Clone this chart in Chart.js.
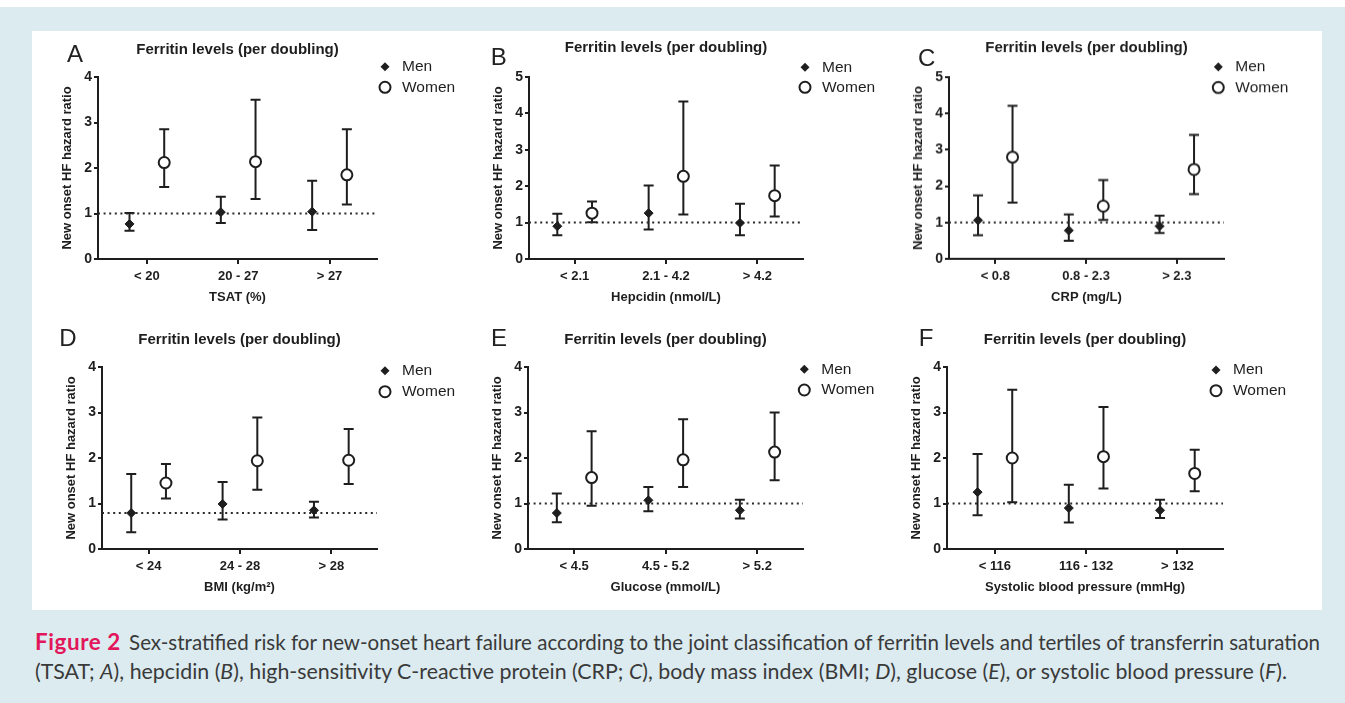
<!DOCTYPE html>
<html>
<head>
<meta charset="utf-8">
<title>Figure 2</title>
<script src="https://cdn.jsdelivr.net/npm/chart.js@4.4.1/dist/chart.umd.min.js"></script>
<style>
  html, body { margin: 0; padding: 0; background: #fff; }
  #page { position: relative; width: 1345px; height: 703px; overflow: hidden; background: #fff; }
  #frame { position: absolute; left: 0; top: 7px; width: 1345px; height: 696px; background: #dbebf0; }
  #plots { position: absolute; left: 32px; top: 31px; width: 1290px; height: 579px; background: #fff; }
  .panel-canvas { position: absolute; }
  .letter { position: absolute; font: 24px "Liberation Sans", Arial, sans-serif; color: #222;
            line-height: 1; transform: translate(-50%, -50%); }
  .cap { position: absolute; left: 35px; white-space: nowrap; font: 21.5px Lato, "Open Sans", sans-serif;
         color: #3a3a3a; line-height: 24px; transform-origin: 0 50%; }
  .cap .fig { color: #e2175b; font-weight: 700; font-size: 23.5px; letter-spacing: 0.6px; margin-right: 3px; }
</style>
</head>
<body>
<div id="page">
  <div id="frame"></div>
  <div id="plots"></div>
  <div class="cap" id="cap1"><span class="fig">Figure 2</span> Sex-stratified risk for new-onset heart failure according to the joint classification of ferritin levels and tertiles of transferrin saturation</div>
  <div class="cap" id="cap2">(TSAT; <i>A</i>), hepcidin (<i>B</i>), high-sensitivity C-reactive protein (CRP; <i>C</i>), body mass index (BMI; <i>D</i>), glucose (<i>E</i>), or systolic blood pressure (<i>F</i>).</div>
</div>

<script>
// --- data ---
const panelLetters = ['A', 'B', 'C', 'D', 'E', 'F'];
const panelTitle = 'Ferritin levels (per doubling)';
const yTitle = 'New onset HF hazard ratio';
const seriesNames = ['Men', 'Women'];
const xTitles = ['TSAT (%)', 'Hepcidin (nmol/L)', 'CRP (mg/L)', 'BMI (kg/m\u00B2)', 'Glucose (mmol/L)', 'Systolic blood pressure (mmHg)'];
const categories = [
    ['< 20', '20 - 27', '> 27'],
    ['< 2.1', '2.1 - 4.2', '> 4.2'],
    ['< 0.8', '0.8 - 2.3', '> 2.3'],
    ['< 24', '24 - 28', '> 28'],
    ['< 4.5', '4.5 - 5.2', '> 5.2'],
    ['< 116', '116 - 132', '> 132']
];
const yMax = [4, 5, 5, 4, 4, 4];
const refLevel = [1, 1, 1, 0.79, 1, 1];

const menHR = [[0.77, 1.03, 1.04], [0.90, 1.26, 0.99], [1.06, 0.78, 0.90], [0.79, 0.99, 0.85], [0.79, 1.07, 0.85], [1.25, 0.90, 0.85]];
const menLow = [[0.62, 0.79, 0.64], [0.65, 0.81, 0.65], [0.65, 0.50, 0.71], [0.37, 0.65, 0.69], [0.59, 0.83, 0.67], [0.74, 0.58, 0.68]];
const menHigh = [[1.01, 1.37, 1.72], [1.24, 2.02, 1.52], [1.75, 1.22, 1.19], [1.65, 1.47, 1.04], [1.22, 1.36, 1.08], [2.09, 1.41, 1.08]];

const womenHR = [[2.12, 2.14, 1.85], [1.26, 2.27, 1.74], [2.80, 1.45, 2.46], [1.45, 1.94, 1.95], [1.57, 1.96, 2.13], [2.00, 2.03, 1.66]];
const womenLow = [[1.58, 1.32, 1.20], [1.01, 1.22, 1.17], [1.55, 1.07, 1.78], [1.11, 1.30, 1.43], [0.95, 1.36, 1.51], [1.03, 1.33, 1.27]];
const womenHigh = [[2.85, 3.50, 2.85], [1.58, 4.33, 2.57], [4.21, 2.17, 3.41], [1.87, 2.89, 2.64], [2.59, 2.85, 3.00], [3.50, 3.12, 2.18]];

// --- layout: plot area of every panel in page pixels ---
const panelBoxes = [
    { left: 98,  right: 377,  top: 77,  bottom: 259,   xMin: 0.465, xMax: 3.52, titleDy: 27,   letter: [75, 54],    legend: [385, 66.7, 87.3] },
    { left: 529, right: 803,  top: 77,  bottom: 259,   xMin: 0.50,  xMax: 3.50, titleDy: 29.5, letter: [498.7, 57], legend: [805, 67.3, 87.3] },
    { left: 949, right: 1224, top: 77,  bottom: 258.5, xMin: 0.49,  xMax: 3.52, titleDy: 29.5, letter: [926.7, 57.5], legend: [1218.3, 66.7, 87.3] },
    { left: 102, right: 377,  top: 367, bottom: 549,   xMin: 0.49,  xMax: 3.50, titleDy: 27,   letter: [68, 337.5], legend: [385, 370.7, 391.7] },
    { left: 528, right: 803,  top: 367, bottom: 549,   xMin: 0.495, xMax: 3.50, titleDy: 27,   letter: [499, 338],  legend: [804.3, 369.3, 390] },
    { left: 947, right: 1223, top: 367, bottom: 549,   xMin: 0.475, xMax: 3.50, titleDy: 27,   letter: [926, 337.5], legend: [1216, 370, 390.7] }
];

const AXIS_W = 70;   // room left of the plot for y ticks and title
const TOP_PAD = 48;
const RIGHT_PAD = 100;
const AXIS_H = 52;   // room under the plot for x ticks and title
const GROUP_SHIFT = 0.19;
const INK = '#1e1e1e';
const FONT = '"Liberation Sans", Arial, sans-serif';

// vertical confidence intervals with caps, drawn through the scales
const errorBars = {
    id: 'errorBars',
    beforeDatasetsDraw(chart) {
        const { ctx } = chart;
        const xs = chart.scales.x;
        const ys = chart.scales.y;
        ctx.save();
        ctx.strokeStyle = INK;
        ctx.lineWidth = 2;
        chart.data.datasets.forEach(ds => {
            if (!ds.errLow) return;
            ds.data.forEach((p, i) => {
                const px = xs.getPixelForValue(p.x);
                const yl = ys.getPixelForValue(ds.errLow[i]);
                const yh = ys.getPixelForValue(ds.errHigh[i]);
                ctx.beginPath();
                ctx.moveTo(px, yl);
                ctx.lineTo(px, yh);
                ctx.moveTo(px - 5, yl);
                ctx.lineTo(px + 5, yl);
                ctx.moveTo(px - 5, yh);
                ctx.lineTo(px + 5, yh);
                ctx.stroke();
            });
        });
        ctx.restore();
    }
};

// panel title above the plot and the little Men / Women key on the right
const panelDecor = {
    id: 'panelDecor',
    afterDraw(chart, args, opts) {
        const { ctx, chartArea } = chart;
        ctx.save();
        ctx.fillStyle = INK;
        ctx.textBaseline = 'middle';
        ctx.textAlign = 'center';
        ctx.font = 'bold 15px ' + FONT;
        ctx.fillText(panelTitle, (chartArea.left + chartArea.right) / 2, chartArea.top - opts.titleDy);

        const [lx, ly1, ly2] = opts.legend;
        ctx.beginPath();
        ctx.moveTo(lx, ly1 - 4.5);
        ctx.lineTo(lx + 4.5, ly1);
        ctx.lineTo(lx, ly1 + 4.5);
        ctx.lineTo(lx - 4.5, ly1);
        ctx.closePath();
        ctx.fill();

        ctx.beginPath();
        ctx.arc(lx, ly2, 5.5, 0, Math.PI * 2);
        ctx.fillStyle = '#fff';
        ctx.fill();
        ctx.lineWidth = 2;
        ctx.strokeStyle = INK;
        ctx.stroke();

        ctx.fillStyle = INK;
        ctx.textAlign = 'left';
        ctx.font = '15.5px ' + FONT;
        ctx.fillText(seriesNames[0], lx + 17, ly1);
        ctx.fillText(seriesNames[1], lx + 17, ly2);
        ctx.restore();
    }
};

function buildPanel(k) {
    const box = panelBoxes[k];
    const page = document.getElementById('page');
    const ox = box.left - AXIS_W;
    const oy = box.top - TOP_PAD;
    const w = (box.right - box.left) + AXIS_W + RIGHT_PAD;
    const h = (box.bottom - box.top) + TOP_PAD + AXIS_H;

    const canvas = document.createElement('canvas');
    canvas.className = 'panel-canvas';
    canvas.width = w;
    canvas.height = h;
    canvas.style.left = ox + 'px';
    canvas.style.top = oy + 'px';
    canvas.style.width = w + 'px';
    canvas.style.height = h + 'px';
    page.appendChild(canvas);

    const letter = document.createElement('div');
    letter.className = 'letter';
    letter.textContent = panelLetters[k];
    letter.style.left = box.letter[0] + 'px';
    letter.style.top = box.letter[1] + 'px';
    page.appendChild(letter);

    const cats = categories[k];
    const men = cats.map((c, i) => ({ x: i + 1 - GROUP_SHIFT, y: menHR[k][i] }));
    const women = cats.map((c, i) => ({ x: i + 1 + GROUP_SHIFT, y: womenHR[k][i] }));

    new Chart(canvas, {
        type: 'scatter',
        data: {
            datasets: [{
                label: seriesNames[0],
                data: men,
                errLow: menLow[k],
                errHigh: menHigh[k],
                pointStyle: 'rectRot',
                pointRadius: 4.5,
                backgroundColor: INK,
                borderColor: INK,
                borderWidth: 1,
                order: 1
            }, {
                label: seriesNames[1],
                data: women,
                errLow: womenLow[k],
                errHigh: womenHigh[k],
                pointStyle: 'circle',
                pointRadius: 5.5,
                backgroundColor: '#fff',
                borderColor: INK,
                borderWidth: 2,
                order: 1
            }, {
                label: 'reference',
                data: [{ x: box.xMin, y: refLevel[k] }, { x: box.xMax, y: refLevel[k] }],
                showLine: true,
                pointRadius: 0,
                borderColor: '#2a2a2a',
                borderWidth: 2,
                borderDash: [2, 3.6],
                order: 3
            }]
        },
        options: {
            responsive: false,
            animation: false,
            devicePixelRatio: 1,
            events: [],
            layout: { padding: { left: 0, top: TOP_PAD, right: RIGHT_PAD, bottom: 0 } },
            plugins: {
                legend: { display: false },
                tooltip: { enabled: false },
                panelDecor: {
                    titleDy: box.titleDy,
                    legend: [box.legend[0] - ox, box.legend[1] - oy, box.legend[2] - oy]
                }
            },
            scales: {
                x: {
                    type: 'linear',
                    min: box.xMin,
                    max: box.xMax,
                    afterBuildTicks: s => { s.ticks = cats.map((c, i) => ({ value: i + 1 })); },
                    afterFit: s => { s.height = AXIS_H; },
                    ticks: {
                        callback: v => cats[Math.round(v) - 1],
                        autoSkip: false,
                        maxRotation: 0,
                        minRotation: 0,
                        padding: 4.5,
                        color: INK,
                        font: { family: FONT, size: 13, weight: 'bold' }
                    },
                    grid: { drawOnChartArea: false, drawTicks: true, tickLength: 5, color: INK, lineWidth: 2 },
                    border: { display: true, color: INK, width: 2 },
                    title: {
                        display: true,
                        text: xTitles[k],
                        color: INK,
                        font: { family: FONT, size: 13, weight: 'bold' },
                        padding: { top: 0, bottom: 6 }
                    }
                },
                y: {
                    min: 0,
                    max: yMax[k],
                    afterFit: s => { s.width = AXIS_W; },
                    ticks: {
                        stepSize: 1,
                        padding: 2,
                        color: INK,
                        font: { family: FONT, size: 14, weight: 'bold' }
                    },
                    grid: { drawOnChartArea: false, drawTicks: true, tickLength: 4, color: INK, lineWidth: 2 },
                    border: { display: true, color: INK, width: 2 },
                    title: {
                        display: true,
                        text: yTitle,
                        color: INK,
                        font: { family: FONT, size: 13, weight: 'bold' },
                        padding: { top: 32, bottom: 0 }
                    }
                }
            }
        },
        plugins: [errorBars, panelDecor]
    });
}

// the caption is set in a different face in the journal; stretch ours to the same line length
function fitCaption(id, top, targetWidth) {
    const el = document.getElementById(id);
    el.style.top = top + 'px';
    const natural = el.getBoundingClientRect().width;
    el.style.transform = 'scaleX(' + (targetWidth / natural) + ')';
}

document.addEventListener('DOMContentLoaded', () => {
    panelLetters.forEach((l, k) => buildPanel(k));
    fitCaption('cap1', 629, 1285);
    fitCaption('cap2', 659, 1252);
});
</script>
</body>
</html>
